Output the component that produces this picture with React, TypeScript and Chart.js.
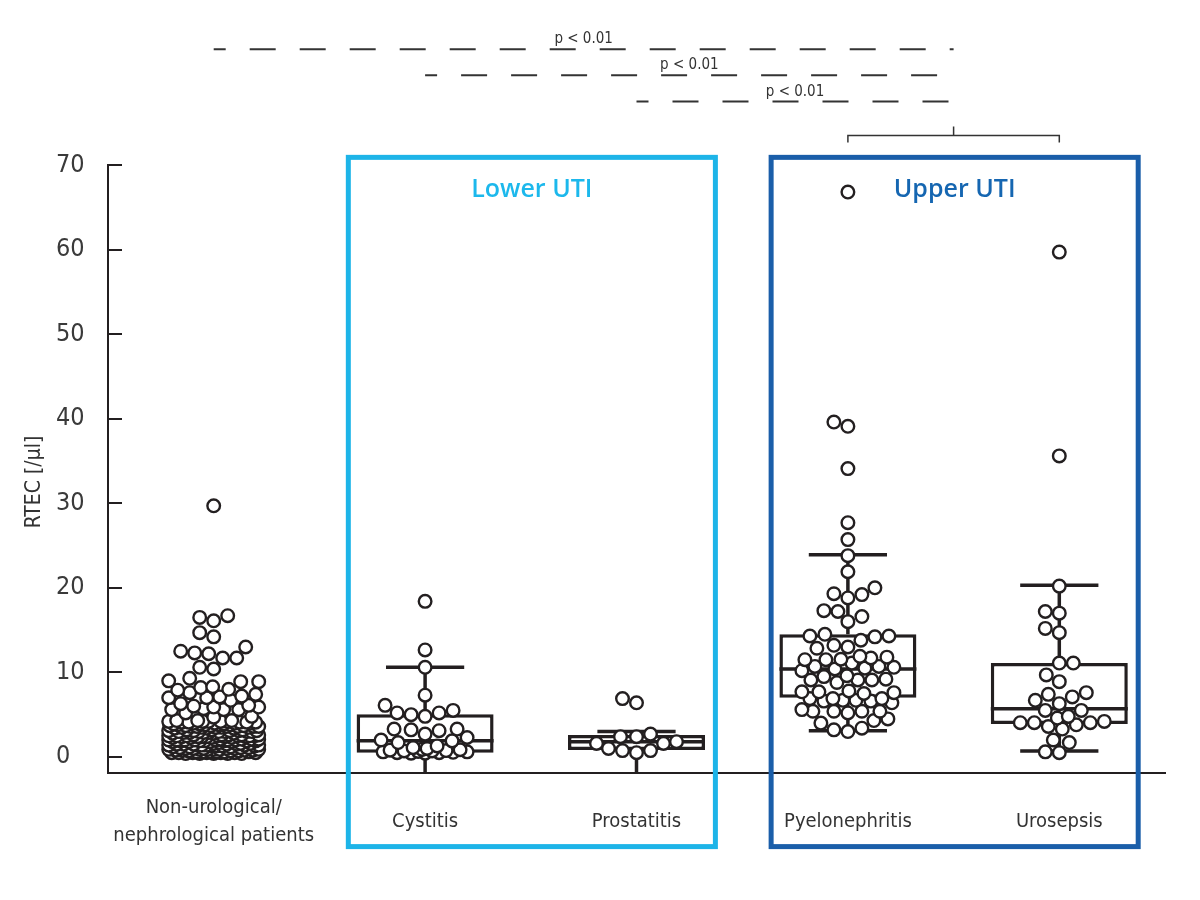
import React, { useEffect, useRef } from "react";
import { Chart, registerables } from "chart.js";

Chart.register(...registerables);

// ---------------- data ----------------
const categories: (string | string[])[] = [
  ["Non-urological/", "nephrological patients"],
  "Cystitis",
  "Prostatitis",
  "Pyelonephritis",
  "Urosepsis",
];

const nonUrological = [
  29.7, 16.1, 16.5, 16.7, 14.7, 14.2, 13.0, 12.2, 11.7, 11.7, 12.3, 12.5, 10.4, 10.6, 9.0, 9.3,
  8.0, 8.3, 7.9, 8.2, 8.9, 8.9, 6.7, 7.0, 7.0, 7.1, 7.2, 7.4, 7.6, 6.3, 5.6, 5.6, 5.6, 5.7, 5.9,
  5.9, 6.0, 6.1, 5.2, 4.7, 4.8, 3.8, 2.6, 1.7,
  4.0, 4.2, 4.1, 4.3, 3.9, 4.2, 4.0, 4.1, 4.3, 4.2, 3.9, 4.1, 4.0, 4.2, 4.1, 4.3, 4.0, 4.2, 4.1, 3.9,
  3.5, 3.7, 3.6, 3.4, 3.8, 3.6, 3.5, 3.7, 3.6, 3.4, 3.8, 3.5, 3.7, 3.6, 3.5, 3.7, 3.4, 3.6, 3.8, 3.5, 3.6,
  3.0, 3.1, 2.9, 3.2, 3.0, 2.8, 3.1, 2.9, 3.0, 3.2, 2.8, 3.1, 3.0, 2.9, 3.2, 3.0, 3.1, 2.9, 2.8, 3.0, 3.1,
  2.5, 2.4, 2.6, 2.3, 2.5, 2.4, 2.6, 2.5, 2.3, 2.4, 2.6, 2.5, 2.4, 2.3, 2.5, 2.6, 2.4, 2.5, 2.3, 2.4, 2.5,
  2.0, 1.9, 2.1, 1.8, 2.0, 1.9, 2.1, 2.0, 1.8, 1.9, 2.1, 2.0, 1.9, 1.8, 2.0, 2.1, 1.9, 2.0, 1.8, 1.9, 2.0,
  1.4, 1.5, 1.3, 1.6, 1.4, 1.2, 1.5, 1.3, 1.4, 1.6, 1.2, 1.5, 1.4, 1.3, 1.6, 1.4, 1.5, 1.3, 1.2, 1.4, 1.5,
  0.9, 1.0, 0.8, 1.1, 0.9, 0.7, 1.0, 0.8, 0.9, 1.1, 0.7, 1.0, 0.9, 0.8, 1.1, 0.9, 1.0, 0.8, 0.7, 0.9, 1.0,
  0.5, 0.6, 0.4, 0.5, 0.6, 0.5, 0.4, 0.6, 0.5, 0.4, 0.6, 0.5, 0.6, 0.4, 0.5, 0.6, 0.5, 0.4,
];
const cystitis = [
  18.4, 12.65, 10.6, 7.3, 6.1, 5.2, 4.8, 5.0, 5.2, 5.5, 2.7, 3.1, 3.3, 3.2, 3.3, 1.7, 1.9, 2.0, 2.3,
  0.45, 0.45, 0.5, 0.5, 0.55, 0.6, 0.6, 0.65, 0.7, 0.7, 0.75, 0.8, 0.85, 0.9, 1.0, 1.1, 1.3,
];
const prostatitis = [6.4, 6.9, 2.7, 2.4, 2.4, 1.6, 1.6, 1.8, 1.0, 0.75, 0.75, 0.5];
const pyelonephritis = [
  66.8, 39.6, 39.1, 34.1, 27.7, 25.7, 23.8, 21.9, 20.0, 19.2, 18.8, 19.3, 17.2, 17.3, 16.6, 16.0,
  14.3, 14.3, 14.2, 14.5, 13.8, 12.85, 13.0, 13.2, 11.5, 11.5, 11.7, 11.55, 11.8, 11.9, 11.1, 10.2,
  10.4, 10.5, 10.7, 10.6, 10.7, 9.1, 8.8, 9.1, 9.1, 9.2, 9.5, 9.6, 7.7, 7.8, 7.5, 7.6, 7.7, 6.7,
  6.9, 6.9, 6.7, 6.9, 6.6, 6.6, 6.4, 5.4, 5.4, 5.6, 5.4, 5.4, 5.2, 4.0, 4.3, 4.5, 3.0, 3.2, 3.4,
];
const urosepsis = [
  59.7, 35.6, 20.2, 17.0, 17.2, 14.7, 15.2, 11.1, 11.1, 9.7, 8.9, 7.4, 7.6, 7.1, 6.3, 6.7, 5.5,
  5.5, 4.6, 4.8, 3.8, 3.3, 3.6, 4.05, 4.05, 4.05, 4.2, 1.7, 2.0, 0.5, 0.6,
];
const groupValues = [nonUrological, cystitis, prostatitis, pyelonephritis, urosepsis];

const boxQ1 = [null, 0.5, 0.83, 7.0, 3.9];
const boxMedian = [null, 1.9, 1.8, 10.4, 5.7];
const boxQ3 = [null, 5.05, 2.6, 14.5, 11.1];
const whiskerLow = [null, -1.9, -1.9, 3.1, 0.7];
const whiskerHigh = [null, 10.6, 3.0, 23.9, 20.3];

const yTicks = [0, 10, 20, 30, 40, 50, 60, 70];
const yTitle = "RTEC [/µl]";
const groupNames = ["Lower UTI", "Upper UTI"];
const groupMembers = [
  [1, 2],
  [3, 4],
];
const pValueLabels = ["p < 0.01", "p < 0.01", "p < 0.01"];
const pValueFrom = [0, 1, 2];
const pValueTo = [3, 4]; // compared against both upper UTI groups together

// ---------------- style / layout ----------------
const NARROW = "'Liberation Sans Narrow', 'DejaVu Sans Condensed', 'Liberation Sans', sans-serif";
const INK = "#231f20";
const LIGHT_BLUE = "#1db4e8";
const DARK_BLUE = "#1a5ea9";
const GROUP_COLORS = [LIGHT_BLUE, DARK_BLUE];
const GROUP_TEXT = ["#1cb8ec", "#1566b1"];
const Y_MIN = -1.9;
const Y_MAX = 70;
const SWARM_HALF = [45, 44, 40, 46, 46];
const POINT_DIAMETER = 14;
const CAP_HALF = 0.185; // in category units
const SIG_LEVELS = [83.7, 80.6, 77.5];
const BRACKET_LEVEL = 73.5;

function beeswarm(values: number[], center: number, xs: any, ys: any, halfWidth: number) {
  const order = values.map((_, i) => i).sort((a, b) => values[a] - values[b]);
  const cx = xs.getPixelForValue(center);
  const placed: { x: number; y: number }[] = [];
  const out: { x: number; y: number }[] = [];
  let flip = 1;
  for (const i of order) {
    const py = ys.getPixelForValue(values[i]);
    let chosen: number | null = null;
    let bestX = cx;
    let bestD = -1;
    for (let k = 0; k <= halfWidth && chosen === null; k++) {
      const cands = k === 0 ? [0] : [k * flip, -k * flip];
      for (const off of cands) {
        const px = cx + off;
        let md = Infinity;
        for (const p of placed) {
          const d = Math.hypot(p.x - px, p.y - py);
          if (d < md) md = d;
        }
        if (md >= POINT_DIAMETER) {
          chosen = px;
          break;
        }
        if (md > bestD + 0.01) {
          bestD = md;
          bestX = px;
        }
      }
    }
    const px = chosen ?? bestX;
    flip = -flip;
    placed.push({ x: px, y: py });
    out.push({ x: xs.getValueForPixel(px), y: values[i] });
  }
  return out;
}

const boxPlugin = {
  id: "boxWhiskers",
  afterDatasetDraw(chart: any, args: any) {
    if (args.index !== 0) return;
    const { ctx } = chart;
    const xs = chart.scales.x;
    const ys = chart.scales.y;
    const meta = chart.getDatasetMeta(0);
    ctx.save();
    ctx.strokeStyle = INK;
    ctx.lineWidth = 3.5;
    ctx.lineCap = "butt";
    meta.data.forEach((bar: any, j: number) => {
      const i = chart.data.datasets[0].data[j].x;
      const cx = xs.getPixelForValue(i);
      const half = bar.width / 2;
      const yq1 = ys.getPixelForValue(boxQ1[i]);
      const yq3 = ys.getPixelForValue(boxQ3[i]);
      const yLo = ys.getPixelForValue(whiskerLow[i]);
      const yHi = ys.getPixelForValue(whiskerHigh[i]);
      const capL = xs.getPixelForValue(i - CAP_HALF);
      const capR = xs.getPixelForValue(i + CAP_HALF);
      ctx.beginPath();
      ctx.moveTo(cx, yq3);
      ctx.lineTo(cx, yHi);
      ctx.moveTo(capL, yHi);
      ctx.lineTo(capR, yHi);
      ctx.moveTo(cx, yq1);
      ctx.lineTo(cx, yLo);
      if ((whiskerLow[i] as number) > Y_MIN) {
        ctx.moveTo(capL, yLo);
        ctx.lineTo(capR, yLo);
      }
      const ym = ys.getPixelForValue(boxMedian[i]);
      ctx.moveTo(cx - half, ym);
      ctx.lineTo(cx + half, ym);
      ctx.stroke();
    });
    ctx.restore();
  },
};

const annotationPlugin = {
  id: "annotations",
  afterDraw(chart: any) {
    const { ctx, chartArea } = chart;
    const xs = chart.scales.x;
    const ys = chart.scales.y;
    ctx.save();

    // inward y ticks
    ctx.strokeStyle = INK;
    ctx.lineWidth = 2;
    ctx.beginPath();
    yTicks.forEach((v) => {
      const y = Math.round(ys.getPixelForValue(v));
      ctx.moveTo(chartArea.left, y);
      ctx.lineTo(chartArea.left + 14, y);
    });
    ctx.stroke();

    // y title
    ctx.save();
    ctx.translate(chartArea.left - 73, (chartArea.top + chartArea.bottom) / 2 + 13);
    ctx.rotate(-Math.PI / 2);
    ctx.fillStyle = "#333";
    ctx.font = `21px ${NARROW}`;
    ctx.textAlign = "center";
    ctx.textBaseline = "middle";
    ctx.fillText(yTitle, 0, 0);
    ctx.restore();

    // group rectangles
    groupMembers.forEach((m, g) => {
      const x0 = xs.getPixelForValue(m[0] - 0.375);
      const x1 = xs.getPixelForValue(m[m.length - 1] + 0.385);
      const y0 = ys.getPixelForValue(71.2);
      const y1 = ys.getPixelForValue(-10.9);
      ctx.strokeStyle = GROUP_COLORS[g];
      ctx.lineWidth = 5;
      ctx.strokeRect(x0 + 2.5, y0 + 2.5, x1 - x0 - 5, y1 - y0 - 5);
      ctx.fillStyle = GROUP_TEXT[g];
      ctx.font = `600 25px 'Open Sans', sans-serif`;
      ctx.textAlign = "center";
      ctx.textBaseline = "middle";
      ctx.fillText(groupNames[g], (x0 + x1) / 2, ys.getPixelForValue(67.1));
    });

    // significance lines
    const endX = xs.getPixelForValue((pValueTo[0] + pValueTo[1]) / 2);
    pValueFrom.forEach((from, k) => {
      const x0 = xs.getPixelForValue(from);
      const y = ys.getPixelForValue(SIG_LEVELS[k]);
      ctx.strokeStyle = "#333";
      ctx.lineWidth = 2;
      ctx.setLineDash([26, 24]);
      ctx.lineDashOffset = 14;
      ctx.beginPath();
      ctx.moveTo(x0, y);
      ctx.lineTo(endX, y);
      ctx.stroke();
      ctx.setLineDash([]);
      ctx.fillStyle = "#333";
      ctx.font = `15px ${NARROW}`;
      ctx.textAlign = "center";
      ctx.textBaseline = "alphabetic";
      ctx.fillText(pValueLabels[k], (x0 + endX) / 2, y - 6);
    });

    // bracket joining upper UTI groups
    const bx0 = xs.getPixelForValue(pValueTo[0]);
    const bx1 = xs.getPixelForValue(pValueTo[1]);
    const by = ys.getPixelForValue(BRACKET_LEVEL);
    ctx.strokeStyle = "#333";
    ctx.lineWidth = 1.5;
    ctx.beginPath();
    ctx.moveTo(bx0, by + 7);
    ctx.lineTo(bx0, by);
    ctx.lineTo(bx1, by);
    ctx.lineTo(bx1, by + 7);
    ctx.moveTo(endX, by);
    ctx.lineTo(endX, by - 9);
    ctx.stroke();

    ctx.restore();
  },
};

export default function App() {
  const ref = useRef<HTMLCanvasElement | null>(null);

  useEffect(() => {
    document.body.style.margin = "0";
    const canvas = ref.current;
    if (!canvas) return;

    const boxData = [1, 2, 3, 4].map((i) => ({ x: i, y: [boxQ1[i] as number, boxQ3[i] as number] }));

    const chart = new Chart(canvas, {
      data: {
        datasets: [
          {
            type: "bar",
            data: boxData as any,
            backgroundColor: "#ffffff",
            borderColor: INK,
            borderWidth: 3.5,
            borderSkipped: false,
            barPercentage: 0.648,
            categoryPercentage: 1,
            order: 10,
          } as any,
          ...groupValues.map(() => ({
            type: "scatter",
            data: [] as any[],
            pointRadius: 6.3,
            pointBorderWidth: 2.4,
            pointBackgroundColor: "#ffffff",
            pointBorderColor: INK,
            order: 0,
          })),
        ],
      },
      options: {
        animation: false,
        responsive: false,
        maintainAspectRatio: false,
        layout: { padding: { left: 56, right: 35, top: 165, bottom: 0 } },
        plugins: { legend: { display: false }, tooltip: { enabled: false } },
        scales: {
          x: {
            type: "linear",
            min: -0.5,
            max: 4.5,
            offset: false,
            grid: { display: false, offset: false },
            border: { display: true, color: INK, width: 2 },
            afterBuildTicks: (s: any) => {
              s.ticks = categories.map((_, i) => ({ value: i }));
            },
            afterFit: (s: any) => {
              s.height = 127;
            },
            ticks: {
              autoSkip: false,
              maxRotation: 0,
              minRotation: 0,
              padding: 27,
              crossAlign: "center",
              color: "#333",
              font: { family: NARROW, size: 20, lineHeight: 1.4 },
              callback: (_v: any, i: number) => categories[i] as any,
            },
          },
          y: {
            type: "linear",
            min: Y_MIN,
            max: Y_MAX,
            grid: { display: false },
            border: { display: true, color: INK, width: 2 },
            afterBuildTicks: (s: any) => {
              s.ticks = yTicks.map((v) => ({ value: v }));
            },
            afterFit: (s: any) => {
              s.width = 52;
            },
            ticks: {
              crossAlign: "far",
              color: "#3a3a3a",
              font: { family: NARROW, size: 25 },
            },
          },
        },
      } as any,
      plugins: [boxPlugin, annotationPlugin],
    } as any);

    const xs = chart.scales.x;
    const ys = chart.scales.y;
    groupValues.forEach((vals, gi) => {
      (chart.data.datasets[gi + 1] as any).data = beeswarm(vals, gi, xs, ys, SWARM_HALF[gi]);
    });
    chart.update();

    return () => chart.destroy();
  }, []);

  return (
    <div style={{ width: 1200, height: 900 }}>
      <canvas ref={ref} width={1200} height={900} style={{ display: "block", width: 1200, height: 900 }} />
    </div>
  );
}
